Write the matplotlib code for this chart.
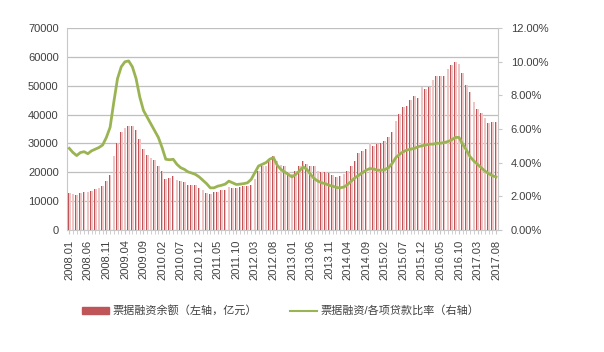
import matplotlib.pyplot as plt
import numpy as np

plt.rcParams['font.family'] = ['Liberation Sans', 'Noto Sans CJK SC', 'DejaVu Sans']

# 月份：2008.01 - 2017.08
months = [f'{2008 + i // 12}.{i % 12 + 1:02d}' for i in range(116)]

# 票据融资余额（亿元）
balance = [
    12800, 12300, 12200, 12800, 13000, 13000, 13600, 14200, 14600, 15100,
    16900, 19100, 25600, 30200, 34000, 35400, 36100, 36100, 34500, 31700,
    28200, 26000, 24900, 24100, 22000, 20300, 17700, 18000, 18600, 17200,
    17000, 16700, 15700, 15600, 15500, 14600, 14000, 12900, 12500, 13100,
    13300, 13700, 14000, 14900, 14600, 14400, 14900, 15200, 15200, 15700,
    17700, 20300, 22000, 22300, 23800, 25500, 23800, 22600, 22000, 20000,
    19500, 20300, 22000, 23800, 23000, 22300, 22000, 20300, 20000, 20000,
    19800, 19200, 18300, 18600, 19400, 20300, 22000, 23800, 26700, 27200,
    28000, 30300, 29200, 29900, 30300, 30700, 32200, 34100, 37800, 40100,
    42800, 42900, 45000, 46400, 45600, 49500, 49000, 49500, 52000, 53500,
    53400, 53400, 55700, 57100, 58400, 57500, 54600, 50300, 48000, 44200,
    42000, 40500, 38700, 37100, 37300, 37300,
]

# 票据融资/各项贷款比率（%）
ratio = [
    4.85, 4.6, 4.42, 4.6, 4.65, 4.53, 4.7, 4.8, 4.9, 5.05,
    5.5, 6.1, 7.6, 9.0, 9.7, 10.0, 10.05, 9.7, 9.0, 7.9,
    7.1, 6.7, 6.3, 5.9, 5.5, 4.9, 4.2, 4.17, 4.2, 3.9,
    3.7, 3.6, 3.45, 3.38, 3.3, 3.15, 2.95, 2.75, 2.5, 2.5,
    2.6, 2.65, 2.72, 2.9, 2.8, 2.7, 2.72, 2.75, 2.8, 3.0,
    3.4, 3.8, 3.9, 4.0, 4.2, 4.3, 3.85, 3.6, 3.45, 3.3,
    3.15, 3.3, 3.5, 3.75, 3.6, 3.3, 3.05, 2.9, 2.8, 2.75,
    2.65, 2.6, 2.52, 2.5, 2.55, 2.7, 2.9, 3.1, 3.25, 3.4,
    3.55, 3.65, 3.62, 3.55, 3.55, 3.58, 3.7, 3.95, 4.3, 4.5,
    4.65, 4.75, 4.8, 4.85, 4.95, 5.0, 5.05, 5.1, 5.1, 5.15,
    5.15, 5.2, 5.25, 5.35, 5.5, 5.5, 5.1, 4.75, 4.35, 4.1,
    3.9, 3.7, 3.5, 3.35, 3.22, 3.15,
]

x = np.arange(len(months))
text_color = '#404040'
bar_dark = '#BF5558'
bar_light = '#EFC6C6'
line_color = '#9BB453'

fig = plt.figure(figsize=(6.04, 3.52), dpi=100)
ax = fig.add_axes([0.111, 0.347, 0.714, 0.573])

# 柱子：浅粉填充 + 深红细边
ax.bar(x, balance, width=0.7, color=bar_light, zorder=2)
ax.bar(x - 0.24, balance, width=0.22, color=bar_dark, zorder=3)

ax.set_ylim(0, 70000)
ax.set_xlim(-0.6, len(x) - 0.4)
ax.set_yticks(range(0, 70001, 10000))
ax.grid(axis='y', color='#BFBFBF', linewidth=0.9, zorder=0)
ax.set_axisbelow(True)

for s in ['top', 'right']:
    ax.spines[s].set_visible(False)
ax.spines['left'].set_color('#C8C8C8')
ax.spines['bottom'].set_color('#C8C8C8')
ax.tick_params(axis='y', length=0, labelsize=8, colors=text_color, pad=6)

ax.set_xticks(x, minor=True)
ax.set_xticks(x[::5])
ax.set_xticklabels(months[::5], rotation=90, fontsize=8, color=text_color)
ax.tick_params(axis='x', which='both', length=3, color='#C8C8C8', pad=4)

ax2 = ax.twinx()
ax2.plot(x, ratio, color=line_color, linewidth=2.0, zorder=4)
ax2.set_ylim(0, 12)
ax2.set_yticks(range(0, 13, 2))
ax2.set_yticklabels([f'{v:.2f}%' for v in range(0, 13, 2)])
for s in ['top', 'left', 'bottom']:
    ax2.spines[s].set_visible(False)
ax2.spines['right'].set_color('#C8C8C8')
ax2.tick_params(axis='y', length=3, color='#C8C8C8', labelsize=8,
                colors=text_color, pad=6)
ax2.tick_params(axis='y', color='#C8C8C8')

# 图例
h1 = plt.Rectangle((0, 0), 1, 1, color=bar_dark)
h2 = plt.Line2D([0], [0], color=line_color, linewidth=1.5)
fig.legend([h1, h2], ['票据融资余额（左轴，亿元）', '票据融资/各项贷款比率（右轴）'],
           loc='center', bbox_to_anchor=(0.465, 0.117), ncol=2, frameon=False,
           fontsize=8, labelcolor=text_color, handlelength=2.4,
           handleheight=0.6, columnspacing=3.0, handletextpad=0.3)

fig.savefig('out.png', dpi=100)
